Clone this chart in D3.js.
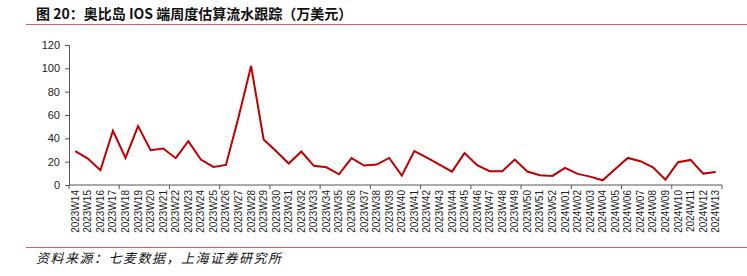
<!DOCTYPE html>
<html>
<head>
<meta charset="utf-8">
<script src="https://cdn.jsdelivr.net/npm/d3@7"></script>
<style>
  body { margin: 0; background: #fff; }
  svg { display: block; font-family: "Liberation Sans", Arial, sans-serif; }
</style>
</head>
<body>
<div id="chart"></div>
<script>
const titleText = "图 20：奥比岛 IOS 端周度估算流水跟踪（万美元）";
const sourceText = "资料来源：七麦数据，上海证券研究所";

const weeks2023 = d3.range(14, 53).map(w => "2023W" + String(w).padStart(2, "0"));
const weeks2024 = d3.range(1, 14).map(w => "2024W" + String(w).padStart(2, "0"));
const weeks = [...weeks2023, ...weeks2024];

const revenue = [
  29, 22.7, 12.6, 46.5, 23.2, 50.5, 29.8, 31.3, 23, 37.6,
  21.8, 15.5, 17.2, 58, 102, 39, 29, 18.4, 28.7, 16.4,
  15.2, 9.2, 23, 16.7, 17.5, 23.2, 8, 29, 23.5, 17.5,
  11.5, 27.3, 17, 11.8, 11.8, 21.8, 11.5, 8.3, 7.8, 14.7,
  9.5, 7.2, 4, 13.8, 23.2, 20.4, 15.2, 4.6, 19.5, 21.5,
  9.8, 11.2
];
const yTicks = [0, 20, 40, 60, 80, 100, 120];

const width = 747, height = 276;
const margin = { top: 45, right: 25, bottom: 91, left: 69 };

const svg = d3.select("#chart").append("svg")
    .attr("width", width)
    .attr("height", height);

// title + red rule
svg.append("text")
    .attr("x", 36).attr("y", 19)
    .style("font-family", "'Noto Sans CJK SC', sans-serif")
    .style("font-size", "14px")
    .style("font-weight", "bold")
    .attr("fill", "#111")
    .text(titleText);

svg.append("line")
    .attr("x1", 26).attr("x2", width).attr("y1", 24.5).attr("y2", 24.5)
    .attr("stroke", "#e8595b").attr("stroke-width", 1);

const x = d3.scaleBand()
    .domain(weeks)
    .range([margin.left, width - margin.right]);

const y = d3.scaleLinear()
    .domain([0, 120])
    .range([height - margin.bottom, margin.top]);

// y axis
svg.append("g")
    .attr("transform", `translate(${margin.left},0)`)
    .call(d3.axisLeft(y).tickValues(yTicks).tickSize(4).tickPadding(5))
    .call(g => g.selectAll("path, line").attr("stroke", "#555"))
    .call(g => g.selectAll("text").style("font-size", "11px").attr("fill", "#222"));

// x axis: ticks at category boundaries every 4
const bounds = d3.range(0, weeks.length + 1, 4).concat(weeks.length % 4 ? [weeks.length] : []);
const xAxis = svg.append("g").attr("transform", `translate(0,${height - margin.bottom})`);
xAxis.append("line")
    .attr("x1", margin.left).attr("x2", width - margin.right)
    .attr("stroke", "#555");
xAxis.selectAll(".bt").data(bounds).enter().append("line")
    .attr("x1", i => margin.left + i * x.step())
    .attr("x2", i => margin.left + i * x.step())
    .attr("y1", 0).attr("y2", 4)
    .attr("stroke", "#555");
xAxis.selectAll(".lbl").data(weeks).enter().append("text")
    .attr("transform", d => `translate(${x(d) + x.bandwidth() / 2 + 3.5},5) rotate(-90)`)
    .attr("text-anchor", "end")
    .style("font-size", "10px")
    .attr("fill", "#222")
    .text(d => d);

// line
const line = d3.line()
    .x((d, i) => x(weeks[i]) + x.bandwidth() / 2)
    .y(d => y(d));

svg.append("path")
    .datum(revenue)
    .attr("fill", "none")
    .attr("stroke", "#c00000")
    .attr("stroke-width", 2)
    .attr("stroke-linejoin", "miter")
    .attr("d", line);

// source rule + text
svg.append("line")
    .attr("x1", 26).attr("x2", width).attr("y1", 247.5).attr("y2", 247.5)
    .attr("stroke", "#e8595b").attr("stroke-width", 1);

svg.append("text")
    .attr("x", 36).attr("y", 263)
    .style("font-family", "'Noto Sans CJK SC', sans-serif")
    .style("font-size", "13px")
    .style("font-style", "italic")
    .style("letter-spacing", "1.5px")
    .attr("fill", "#111")
    .text(sourceText);
</script>
</body>
</html>
